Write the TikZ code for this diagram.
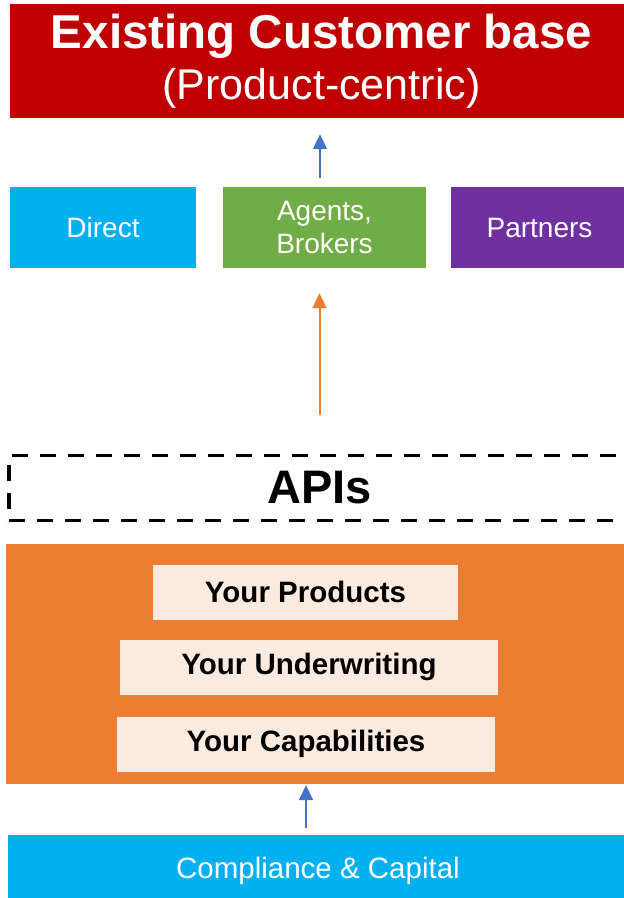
\documentclass[tikz,border=0pt]{standalone}
\usepackage{fontspec}
\setmainfont{Liberation Sans}
\usetikzlibrary{arrows.meta}

\definecolor{baseRed}{HTML}{C00000}
\definecolor{directBlue}{HTML}{00B0F0}
\definecolor{agentGreen}{HTML}{70AD47}
\definecolor{partnerPurple}{HTML}{7030A0}
\definecolor{stackOrange}{HTML}{ED7D31}
\definecolor{layerCream}{HTML}{FBEADF}
\definecolor{arrowBlue}{HTML}{4472C4}

\begin{document}
\begin{tikzpicture}[x=1pt, y=-1pt]
    \tikzstyle{tier box} = [rectangle, inner sep=0pt, text=white, align=center]
    \tikzstyle{channel box} = [tier box, minimum height=81pt, font=\fontsize{28}{33}\selectfont]
    \tikzstyle{layer box} = [rectangle, inner sep=0pt, fill=layerCream, text=black, minimum height=55pt, font=\fontsize{29.5}{31}\selectfont\bfseries]
    \tikzstyle{flow arrow} = [draw, line width=2pt, -{Triangle[width=14pt,length=15pt]}]
\useasboundingbox (0,0) rectangle (624,898);
\node[tier box, fill=baseRed, minimum width=623pt, minimum height=114pt] (base) at (321.5,61) {{\fontsize{47.5}{50}\selectfont\bfseries Existing Customer base}\\[9pt]{\fontsize{43}{50}\selectfont (Product-centric)}};
\node[channel box, fill=directBlue, minimum width=186pt] (direct) at (103,227.5) {Direct};
\node[channel box, fill=agentGreen, minimum width=203pt] (agents) at (324.5,227.5) {Agents,\\Brokers};
\node[channel box, fill=partnerPurple, minimum width=177pt] (partners) at (539.5,227.5) {Partners};
\node[rectangle, draw=black, dash pattern=on 16pt off 12pt, line width=3.2pt, minimum width=621pt, minimum height=65pt, font=\fontsize{47}{50}\selectfont\bfseries] (apis) at (319.5,488) {APIs};
\node[rectangle, fill=stackOrange, minimum width=626pt, minimum height=240pt] (stack) at (319,664) {};
\node[layer box, minimum width=305pt] (products) at (305.5,592) {Your Products};
\node[layer box, minimum width=378pt] (underwriting) at (309,667) {Your Underwriting};
\node[layer box, minimum width=378pt] (capabilities) at (306,744) {Your Capabilities};
\node[tier box, fill=directBlue, minimum width=620pt, minimum height=71pt, font=\fontsize{29.5}{31}\selectfont] (compliance) at (318,870.5) {Compliance \& Capital};
\coordinate (upstart) at ([xshift=-4.5pt]agents.north);
\draw[flow arrow, arrowBlue, shorten <=9pt, shorten >=16pt] (upstart) to (upstart |- base.south);
\draw[flow arrow, stackOrange, shorten <=39pt, shorten >=25pt] (apis.north) to (apis.north |- agents.south);
\draw[flow arrow, arrowBlue, shorten <=7pt, shorten >=1pt] (capabilities.south |- compliance.north) to (capabilities.south |- stack.south);
\end{tikzpicture}
\end{document}
